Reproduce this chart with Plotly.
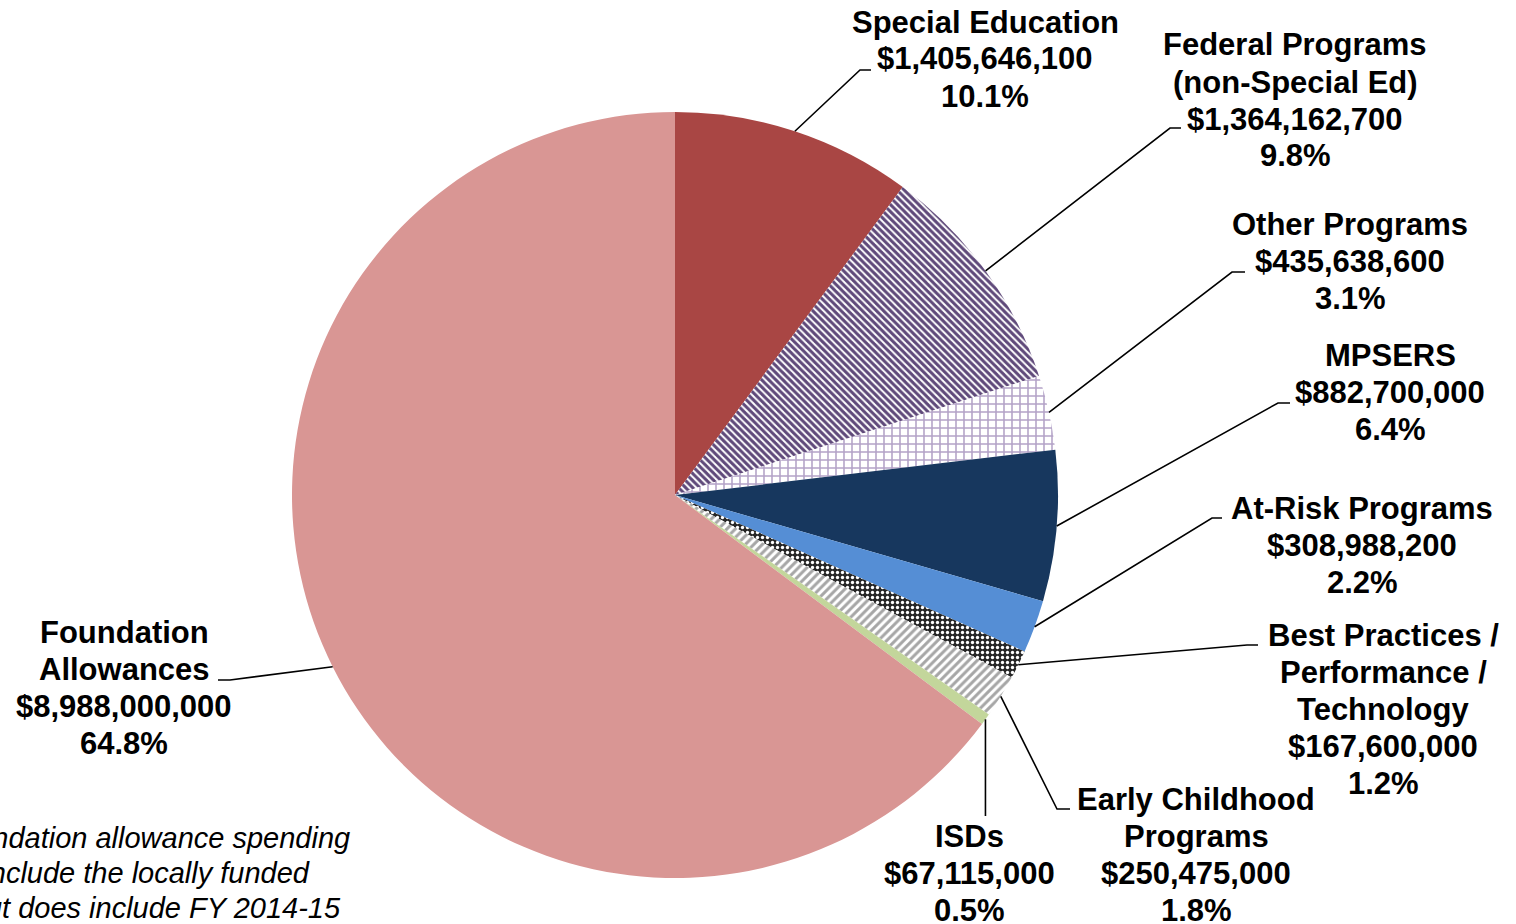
import math
import plotly.graph_objects as go

# ---------------- data ----------------
categories = [
    ["Special Education"],
    ["Federal Programs", "(non-Special Ed)"],
    ["Other Programs"],
    ["MPSERS"],
    ["At-Risk Programs"],
    ["Best Practices /", "Performance /", "Technology"],
    ["Early Childhood", "Programs"],
    ["ISDs"],
    ["Foundation", "Allowances"],
]
values = [1405646100, 1364162700, 435638600, 882700000, 308988200,
          167600000, 250475000, 67115000, 8988000000]
pct_labels = ["10.1%", "9.8%", "3.1%", "6.4%", "2.2%", "1.2%", "1.8%", "0.5%", "64.8%"]
note_lines = ["*Foundation allowance spending",
              "does not include the locally funded",
              "portion, but does include FY 2014-15"]

# ---------------- styles ----------------
colors = ["#A94644", "#FFFFFF", "#FFFFFF", "#17375E", "#558ED5",
          "#262626", "#FFFFFF", "#C3D69B", "#D99694"]
pat_shapes = ["", "\\", "+", "", "", ".", "/", "", ""]
pat_fg = ["#A94644", "#5F497A", "#B3A2C7", "#17375E", "#558ED5",
          "#FFFFFF", "#A6A6A6", "#C3D69B", "#D99694"]
pat_size = [6, 5, 8, 6, 6, 5, 6, 6, 6]
pat_sol = [0.3, 0.6, 0.35, 0.3, 0.3, 0.35, 0.5, 0.3, 0.3]

W, H = 1516, 924
CX, CY, R = 675, 495, 383  # pie geometry in pixels

# label layout (pixels): center x, first line center y, leader elbow and end
label_x = [985, 1295, 1350, 1390, 1362, 1383, 1196, 969, 124]
label_y0 = [22, 45, 224, 355, 508, 635, 799, 836, 632]
LINE = 37
elbows = [(860, 70), (1170, 128), (1232, 272), (1278, 403), (1212, 518),
          (1247, 645), (1057, 809), (984, 816), (230, 680)]
ends = [(871, 70), (1181, 128), (1245, 272), (1290, 403), (1222, 518),
        (1258, 645), (1070, 809), (984, 816), (218, 680)]
note_right = [352, 312, 343]
note_y = [838, 873, 908]


def px(x):
    return x / W


def py(y):
    return 1 - y / H


fig = go.Figure()
fig.add_trace(go.Pie(
    labels=[" ".join(c) for c in categories],
    values=values,
    sort=False,
    direction="clockwise",
    rotation=0,
    textinfo="none",
    hoverinfo="label+value+percent",
    showlegend=False,
    marker=dict(
        colors=colors,
        line=dict(width=0),
        pattern=dict(shape=pat_shapes, fgcolor=pat_fg, bgcolor=colors,
                     size=pat_size, solidity=pat_sol, fillmode="replace"),
    ),
    domain=dict(x=[px(CX - R), px(CX + R)], y=[py(CY + R), py(CY - R)]),
))

total = sum(values)
cum = 0
shapes = []
annotations = []
lab_font = dict(family="Liberation Sans, Arial", size=31, color="black")
for i, v in enumerate(values):
    mid = (cum + v / 2) / total * 2 * math.pi
    cum += v
    ex = CX + R * math.sin(mid)
    ey = CY - R * math.cos(mid)
    (bx, by), (dx, dy) = elbows[i], ends[i]
    if i == 7:
        bx = dx = ex
    path = f"M {px(ex)},{py(ey)} L {px(bx)},{py(by)} L {px(dx)},{py(dy)}"
    shapes.append(dict(type="path", path=path, xref="paper", yref="paper",
                       line=dict(color="black", width=1.6)))
    lines = categories[i] + [f"${v:,.0f}", pct_labels[i]]
    for k, t in enumerate(lines):
        annotations.append(dict(
            x=px(label_x[i]), y=py(label_y0[i] + k * LINE),
            xref="paper", yref="paper",
            xanchor="center", yanchor="middle", align="center",
            text=f"<b>{t}</b>", showarrow=False, font=lab_font,
        ))

for t, rx, yy in zip(note_lines, note_right, note_y):
    annotations.append(dict(
        x=px(rx), y=py(yy), xref="paper", yref="paper",
        xanchor="right", yanchor="middle", text=f"<i>{t}</i>",
        showarrow=False,
        font=dict(family="Liberation Sans, Arial", size=29, color="black"),
    ))

fig.update_layout(
    width=W, height=H,
    margin=dict(l=0, r=0, t=0, b=0),
    paper_bgcolor="white", plot_bgcolor="white",
    shapes=shapes, annotations=annotations,
)

fig.write_html(
    "out.html",
    config={"displayModeBar": False},
    post_script="document.body.style.margin='0';document.body.style.overflow='hidden';",
)
